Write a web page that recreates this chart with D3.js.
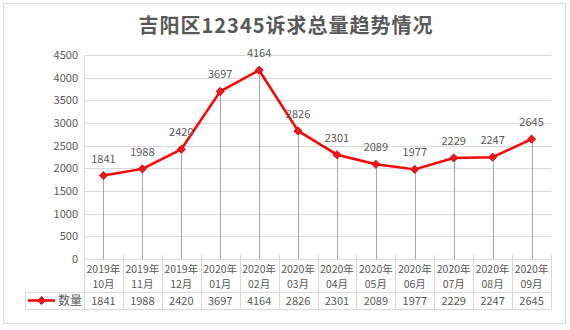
<!DOCTYPE html>
<html>
<head>
<meta charset="utf-8">
<script src="https://cdn.jsdelivr.net/npm/d3@7"></script>
<style>
  html, body { margin: 0; padding: 0; background: #fff; }
  svg { display: block; }
  text { font-family: "Noto Sans CJK SC", "Noto Sans", sans-serif; }
</style>
</head>
<body>
<svg id="chart" width="570" height="330"></svg>
<script>
// Monthly totals of 12345 service requests, Jiyang District
const yearLabels = ["2019年","2019年","2019年","2020年","2020年","2020年","2020年","2020年","2020年","2020年","2020年","2020年"];
const monthLabels = ["10月","11月","12月","01月","02月","03月","04月","05月","06月","07月","08月","09月"];
const counts = [1841, 1988, 2420, 3697, 4164, 2826, 2301, 2089, 1977, 2229, 2247, 2645];
const yTicks = [0, 500, 1000, 1500, 2000, 2500, 3000, 3500, 4000, 4500];
const seriesName = "数量";
const chartTitle = "吉阳区12345诉求总量趋势情况";

const svg = d3.select("#chart");
const textGray = "#595959";
const gridGray = "#d9d9d9";
const lineRed = "#ff0000";

const plot = { left: 84, right: 551, top: 55, bottom: 259 };
const tableRow1 = 292, tableRow2 = 309, legendLeft = 25;

// outer frame
svg.append("rect")
  .attr("x", 3.5).attr("y", 3.5).attr("width", 562).attr("height", 320)
  .attr("fill", "#fff").attr("stroke", gridGray);

// title
svg.append("text")
  .attr("x", 286).attr("y", 33)
  .attr("text-anchor", "middle")
  .attr("font-size", 20).attr("font-weight", "bold")
  .attr("letter-spacing", 1)
  .attr("fill", textGray)
  .text(chartTitle);

const idx = d3.range(counts.length);
const x = d3.scaleBand().domain(idx).range([plot.left, plot.right]);
const y = d3.scaleLinear().domain([0, 4500]).range([plot.bottom, plot.top]);
const cx = i => x(i) + x.bandwidth() / 2;

// horizontal gridlines
svg.append("g").selectAll("line").data(yTicks).join("line")
  .attr("x1", plot.left).attr("x2", plot.right)
  .attr("y1", d => Math.round(y(d)) + 0.5).attr("y2", d => Math.round(y(d)) + 0.5)
  .attr("stroke", gridGray).attr("stroke-width", 1);

// y axis labels
const yAxis = d3.axisLeft(y).tickValues(yTicks).tickFormat(d3.format("d")).tickSize(0).tickPadding(6);
const gy = svg.append("g").attr("transform", `translate(${plot.left},0)`).call(yAxis);
gy.select(".domain").remove();
gy.selectAll("text").attr("font-size", 11).attr("fill", textGray)
  .attr("font-family", "'Noto Sans CJK SC', sans-serif");

// small tick marks above the table at column boundaries
const bounds = idx.map(i => x(i)).concat([plot.right]);
svg.append("g").selectAll("line").data(bounds).join("line")
  .attr("x1", d => Math.round(d) + 0.5).attr("x2", d => Math.round(d) + 0.5)
  .attr("y1", plot.bottom - 4).attr("y2", plot.bottom)
  .attr("stroke", gridGray);

// drop lines from each point to the baseline
svg.append("g").selectAll("line").data(idx).join("line")
  .attr("x1", i => Math.round(cx(i)) + 0.5)
  .attr("x2", i => Math.round(cx(i)) + 0.5)
  .attr("y1", i => y(counts[i])).attr("y2", plot.bottom)
  .attr("stroke", "#a6a6a6").attr("stroke-width", 1);

// series line
const line = d3.line().x(cx).y(i => y(counts[i]));
svg.append("path").datum(idx)
  .attr("d", line)
  .attr("fill", "none").attr("stroke", lineRed).attr("stroke-width", 2.5)
  .attr("stroke-linejoin", "round");

// diamond markers
const diamond = d3.symbol().type(d3.symbolDiamond2).size(42);
svg.append("g").selectAll("path").data(idx).join("path")
  .attr("d", diamond)
  .attr("transform", i => `translate(${cx(i)},${y(counts[i])})`)
  .attr("fill", "#e8151b").attr("stroke", "#d4151b").attr("stroke-width", 1);

// value labels above points
svg.append("g").selectAll("text").data(idx).join("text")
  .attr("x", cx)
  .attr("y", i => y(counts[i]) - 13)
  .attr("text-anchor", "middle")
  .attr("font-size", 11).attr("fill", textGray)
  .text(i => counts[i]);

// data table beneath the plot
const tbl = svg.append("g").attr("stroke", gridGray).attr("stroke-width", 1);
tbl.append("line").attr("x1", plot.left).attr("x2", plot.right)
  .attr("y1", plot.bottom + 0.5).attr("y2", plot.bottom + 0.5);
tbl.append("line").attr("x1", legendLeft).attr("x2", plot.right)
  .attr("y1", tableRow1 + 0.5).attr("y2", tableRow1 + 0.5);
tbl.append("line").attr("x1", legendLeft).attr("x2", plot.right)
  .attr("y1", tableRow2 + 0.5).attr("y2", tableRow2 + 0.5);
tbl.selectAll("line.v").data(bounds).join("line").attr("class", "v")
  .attr("x1", d => Math.round(d) + 0.5).attr("x2", d => Math.round(d) + 0.5)
  .attr("y1", (d, i) => i === 0 ? plot.top : plot.bottom)
  .attr("y2", tableRow2);
tbl.append("line").attr("x1", legendLeft + 0.5).attr("x2", legendLeft + 0.5)
  .attr("y1", tableRow1).attr("y2", tableRow2);

// category headers: year line and month line
svg.append("g").selectAll("text").data(idx).join("text")
  .attr("x", cx).attr("y", 272.5)
  .attr("text-anchor", "middle")
  .attr("font-size", 10.5).attr("fill", textGray)
  .text(i => yearLabels[i]);
svg.append("g").selectAll("text").data(idx).join("text")
  .attr("x", cx).attr("y", 288)
  .attr("text-anchor", "middle")
  .attr("font-size", 10.5).attr("fill", textGray)
  .text(i => monthLabels[i]);

// values row
svg.append("g").selectAll("text").data(idx).join("text")
  .attr("x", cx).attr("y", 305)
  .attr("text-anchor", "middle")
  .attr("font-size", 11).attr("fill", textGray)
  .text(i => counts[i]);

// legend key in the table
svg.append("line").attr("x1", 28).attr("x2", 55)
  .attr("y1", 300.5).attr("y2", 300.5)
  .attr("stroke", lineRed).attr("stroke-width", 2.5);
svg.append("path").attr("d", diamond)
  .attr("transform", "translate(41.5,300.5)")
  .attr("fill", "#e8151b").attr("stroke", "#d4151b");
svg.append("text").attr("x", 58).attr("y", 305)
  .attr("font-size", 12).attr("fill", textGray)
  .text(seriesName);
</script>
</body>
</html>
